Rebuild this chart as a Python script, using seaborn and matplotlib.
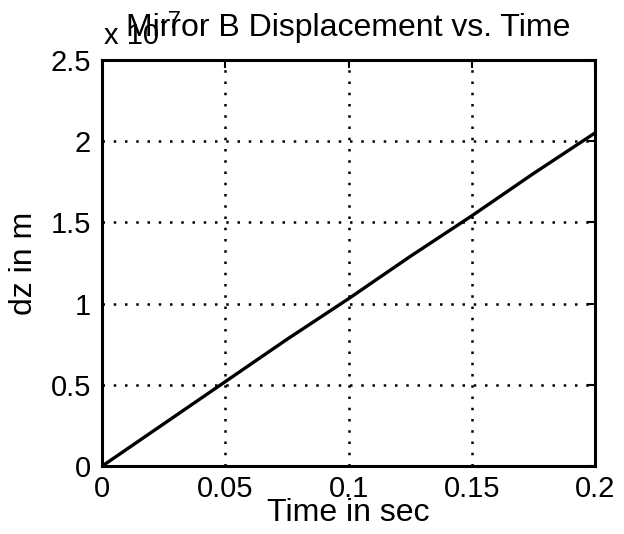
import numpy as np
import pandas as pd
import matplotlib
matplotlib.use('Agg')
import matplotlib.pyplot as plt
import seaborn as sns

sns.set_style('white')
plt.rcParams['font.family'] = ['Liberation Sans', 'DejaVu Sans']
plt.rcParams.update({'font.size': 21, 'text.color': 'black', 'axes.labelcolor': 'black',
                     'xtick.color': 'black', 'ytick.color': 'black'})

# time in seconds, displacement in units of 1e-7 m
time_sec = [0.0, 0.025, 0.05, 0.075, 0.1, 0.125, 0.15, 0.175, 0.2]
dz_e7 = [0.0, 0.26, 0.52, 0.78, 1.03, 1.29, 1.54, 1.80, 2.05]
x_ticks = [0, 0.05, 0.1, 0.15, 0.2]
x_ticklabels = ['0', '0.05', '0.1', '0.15', '0.2']
y_ticks = [0, 0.5, 1, 1.5, 2, 2.5]
y_ticklabels = ['0', '0.5', '1', '1.5', '2', '2.5']

df = pd.DataFrame({'t': time_sec, 'dz': dz_e7})

fig = plt.figure(figsize=(6.24, 5.34), dpi=100)
ax = fig.add_axes([0.1635, 0.127, 0.790, 0.761])

sns.lineplot(data=df, x='t', y='dz', color='black', linewidth=2.4, ax=ax)

ax.set_xlim(0, 0.2)
ax.set_ylim(0, 2.5)
ax.set_xticks(x_ticks)
ax.set_xticklabels(x_ticklabels)
ax.set_yticks(y_ticks)
ax.set_yticklabels(y_ticklabels)
ax.grid(True, color='black', linestyle=(0, (1, 3.5)), linewidth=1.8)
ax.tick_params(direction='in', length=6, width=1.5, color='black',
               labelsize=21, top=True, right=True)
ax.tick_params(axis='x', pad=6)
ax.tick_params(axis='y', pad=8)
for s in ax.spines.values():
    s.set_color('black')
    s.set_linewidth(2.2)

ax.set_xlabel('Time in sec', fontsize=23, labelpad=-3)
ax.set_ylabel('dz in m', fontsize=23, labelpad=8)
ax.set_title('Mirror B Displacement vs. Time', fontsize=23, pad=17)

# exponent label like matlab, overlapping the title
ax.text(0.003, 1.04, 'x 10', transform=ax.transAxes, fontsize=21, ha='left', va='baseline')
ax.text(0.117, 1.079, '-7', transform=ax.transAxes, fontsize=17, ha='left', va='baseline')

fig.savefig('out.png', dpi=100, facecolor='white')
